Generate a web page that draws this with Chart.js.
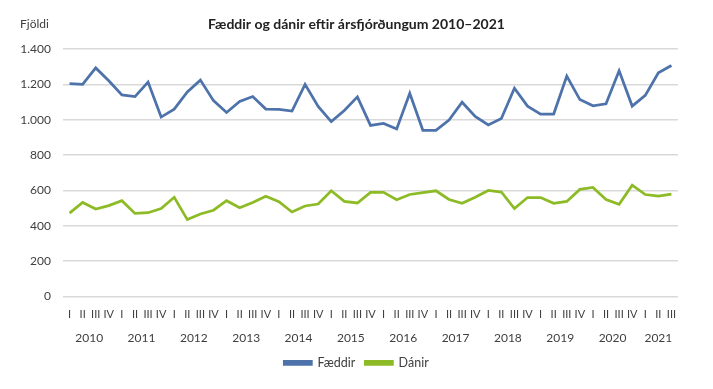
<!DOCTYPE html>
<html>
<head>
<meta charset="utf-8">
<script src="https://cdn.jsdelivr.net/npm/chart.js@4.4.1/dist/chart.umd.min.js"></script>
<style>
  html, body { margin: 0; padding: 0; background: #fff; }
  #wrap { width: 713px; height: 389px; }
</style>
</head>
<body>
<div id="wrap"><canvas id="myChart"></canvas></div>
<script>
// tick labels
const years = ["2010", "2011", "2012", "2013", "2014", "2015", "2016", "2017", "2018", "2019", "2020", "2021"];
const quarterNames = ["I", "II", "III", "IV"];

// series values, 2010 Q1 .. 2021 Q3
const faeddir = [
  1204, 1200, 1293, 1220, 1140, 1131, 1213, 1015, 1060, 1157, 1224, 1108,
  1041, 1103, 1131, 1060, 1058, 1049, 1200, 1075, 989, 1052, 1129, 968,
  979, 948, 1150, 940, 940, 998, 1099, 1019, 970, 1007, 1178, 1077,
  1032, 1032, 1247, 1114, 1079, 1090, 1277, 1077, 1138, 1265, 1307
];
const danir = [
  472, 532, 495, 514, 542, 470, 474, 498, 561, 435, 467, 488,
  542, 502, 532, 567, 536, 478, 512, 523, 598, 538, 529, 589,
  589, 547, 577, 587, 598, 549, 527, 562, 600, 591, 497, 560,
  560, 527, 538, 606, 617, 549, 521, 630, 577, 568, 579
];

const titleText = "Fæddir og dánir eftir ársfjórðungum 2010–2021";

// quarter labels built from the tick names
const labels = [];
years.forEach((y) => quarterNames.forEach((q) => labels.push(q)));
labels.length = faeddir.length;

const textColor = "#404040";
const gridColor = "#d9d9d9";
const fontFamily = "Lato, 'Open Sans', sans-serif";

// title and "Fjöldi" drawn over the top margin
const topTexts = {
  id: "topTexts",
  afterDraw(chart) {
    const c = chart.ctx;
    c.save();
    c.textBaseline = "middle";
    c.font = "12px " + fontFamily;
    c.fillStyle = textColor;
    c.textAlign = "left";
    c.fillText("Fjöldi", 20, 24);
    c.font = "bold 14px " + fontFamily;
    c.fillStyle = "#222";
    c.textAlign = "center";
    c.fillText(titleText, chart.width / 2, 24);
    c.restore();
  },
};

const ctx = document.getElementById("myChart");

new Chart(ctx, {
  type: "line",
  data: {
    labels: labels,
    datasets: [
      {
        label: "Fæddir",
        data: faeddir,
        borderColor: "#4e72aa",
        backgroundColor: "#4e72aa",
        borderWidth: 2.75,
        pointRadius: 0,
        tension: 0,
      },
      {
        label: "Dánir",
        data: danir,
        borderColor: "#8dbb25",
        backgroundColor: "#8dbb25",
        borderWidth: 2.75,
        pointRadius: 0,
        tension: 0,
      },
    ],
  },
  options: {
    responsive: true,
    maintainAspectRatio: false,
    animation: false,
    layout: { padding: { left: 0, right: 0, top: 49, bottom: 10 } },
    plugins: {
      title: { display: false },
      legend: {
        position: "bottom",
        labels: {
          color: textColor,
          boxWidth: 27,
          boxHeight: 3,
          padding: 10,
          font: { family: fontFamily, size: 12.5 },
        },
      },
      tooltip: { enabled: false },
    },
    scales: {
      y: {
        min: 0,
        max: 1400,
        ticks: {
          stepSize: 200,
          color: textColor,
          padding: 12,
          font: { family: fontFamily, size: 12 },
          callback: (v) => v.toString().replace(/\B(?=(\d{3})+(?!\d))/g, "."),
        },
        grid: { color: gridColor, lineWidth: 1.5, drawTicks: false },
        border: { display: false },
        afterFit: (s) => { s.width = 63; },
      },
      // empty right margin
      yRight: {
        position: "right",
        min: 0,
        max: 1400,
        ticks: { display: false },
        grid: { display: false, drawTicks: false },
        border: { display: false },
        afterFit: (s) => { s.width = 35; },
      },
      x: {
        offset: true,
        ticks: {
          color: textColor,
          autoSkip: false,
          maxRotation: 0,
          padding: 11,
          font: { family: fontFamily, size: 11 },
        },
        grid: { display: false, drawTicks: false },
        border: { display: false },
        afterFit: (s) => { s.height = 24; },
      },
      x2: {
        type: "linear",
        position: "bottom",
        min: -0.5,
        max: faeddir.length - 0.5,
        afterBuildTicks: (s) => {
          s.ticks = years.map((y, i) => ({
            value: Math.min(i * 4 + 1.5, (i * 4 + faeddir.length - 1) / 2),
          }));
        },
        ticks: {
          color: textColor,
          autoSkip: false,
          maxRotation: 0,
          padding: 10,
          font: { family: fontFamily, size: 12 },
          callback: (v, i) => years[i],
        },
        grid: { display: false, drawTicks: false },
        border: { display: false },
        afterFit: (s) => { s.height = 26; },
      },
    },
  },
  plugins: [topTexts],
});
</script>
</body>
</html>
